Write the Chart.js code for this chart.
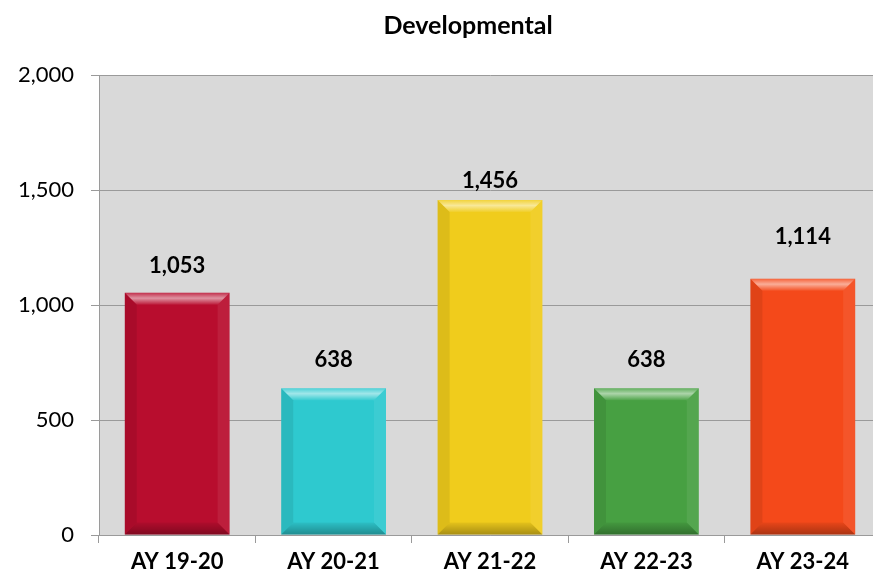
<!DOCTYPE html>
<html>
<head>
<meta charset="utf-8">
<script src="https://cdn.jsdelivr.net/npm/chart.js@4/dist/chart.umd.min.js"></script>
<style>
  html, body { margin: 0; padding: 0; background: #fff; overflow: hidden; }
  #wrap { width: 873px; height: 580px; overflow: hidden; }
</style>
</head>
<body>
<!-- el lienzo es algo más ancho: el área de trazado del original queda cortada por la derecha -->
<div id="wrap"><canvas id="grafico" width="881" height="580"></canvas></div>
<script>
// Datos del gráfico
const categorias = ['AY 19-20', 'AY 20-21', 'AY 21-22', 'AY 22-23', 'AY 23-24'];
const valores = [1053, 638, 1456, 638, 1114];
const colores = ['#b80d2e', '#2ec9cf', '#f0cc1c', '#47a042', '#f4491a'];
const ticksY = [0, 500, 1000, 1500, 2000];
// separación (px) de cada etiqueta sobre su barra, tal como en el original
const separacionEtiqueta = [27, 28, 19, 28, 42];

const FUENTE = 'Lato, "Liberation Sans", sans-serif';
const formatear = (n) => n.toLocaleString('en-US');

// fondo gris del área de trazado
const fondoArea = {
    id: 'fondoArea',
    beforeDraw(chart) {
        const { ctx, chartArea: a } = chart;
        ctx.save();
        ctx.fillStyle = '#d9d9d9';
        ctx.fillRect(a.left, a.top, a.right - a.left, a.bottom - a.top);
        ctx.restore();
    }
};

// título centrado sobre el gráfico completo
const titulo = {
    id: 'titulo',
    afterDraw(chart) {
        const ctx = chart.ctx;
        ctx.save();
        ctx.font = 'bold 25px ' + FUENTE;
        ctx.fillStyle = '#000';
        ctx.textAlign = 'center';
        ctx.textBaseline = 'middle';
        ctx.fillText('Developmental', 468, 26);
        ctx.restore();
    }
};

// efecto biselado sobre cada barra, usando la geometría del propio Chart.js
const bisel = {
    id: 'bisel',
    afterDatasetsDraw(chart) {
        const ctx = chart.ctx;
        chart.getDatasetMeta(0).data.forEach(bar => {
            const l = bar.x - bar.width / 2, r = bar.x + bar.width / 2;
            const t = bar.y, b = bar.base;
            const d = 12;
            ctx.save();
            // arriba (brillo)
            let g = ctx.createLinearGradient(0, t, 0, t + d);
            g.addColorStop(0, 'rgba(255,255,255,0.15)');
            g.addColorStop(0.45, 'rgba(255,255,255,0.55)');
            g.addColorStop(1, 'rgba(255,255,255,0.05)');
            ctx.fillStyle = g;
            ctx.beginPath();
            ctx.moveTo(l, t); ctx.lineTo(r, t); ctx.lineTo(r - d, t + d); ctx.lineTo(l + d, t + d);
            ctx.closePath(); ctx.fill();
            // abajo (sombra)
            g = ctx.createLinearGradient(0, b - d, 0, b);
            g.addColorStop(0, 'rgba(0,0,0,0.05)');
            g.addColorStop(1, 'rgba(0,0,0,0.3)');
            ctx.fillStyle = g;
            ctx.beginPath();
            ctx.moveTo(l, b); ctx.lineTo(r, b); ctx.lineTo(r - d, b - d); ctx.lineTo(l + d, b - d);
            ctx.closePath(); ctx.fill();
            // izquierda
            ctx.fillStyle = 'rgba(0,0,0,0.08)';
            ctx.beginPath();
            ctx.moveTo(l, t); ctx.lineTo(l + d, t + d); ctx.lineTo(l + d, b - d); ctx.lineTo(l, b);
            ctx.closePath(); ctx.fill();
            // derecha
            ctx.fillStyle = 'rgba(255,255,255,0.07)';
            ctx.beginPath();
            ctx.moveTo(r, t); ctx.lineTo(r - d, t + d); ctx.lineTo(r - d, b - d); ctx.lineTo(r, b);
            ctx.closePath(); ctx.fill();
            ctx.restore();
        });
    }
};

// etiquetas de valor encima de las barras
const etiquetas = {
    id: 'etiquetas',
    afterDatasetsDraw(chart) {
        const ctx = chart.ctx;
        const ds = chart.data.datasets[0];
        ctx.save();
        ctx.font = 'bold 22px ' + FUENTE;
        ctx.fillStyle = '#000';
        ctx.textAlign = 'center';
        ctx.textBaseline = 'middle';
        chart.getDatasetMeta(0).data.forEach((bar, i) => {
            ctx.fillText(formatear(ds.data[i]), bar.x, bar.y - separacionEtiqueta[i]);
        });
        ctx.restore();
    }
};

new Chart(document.getElementById('grafico'), {
    type: 'bar',
    data: {
        labels: categorias,
        datasets: [{
            data: valores,
            backgroundColor: colores,
            borderWidth: 0,
            categoryPercentage: 1,
            barPercentage: 0.67
        }]
    },
    options: {
        responsive: false,
        animation: false,
        layout: { padding: { left: 0, right: 0, top: 75, bottom: 0 } },
        plugins: {
            legend: { display: false },
            tooltip: { enabled: false },
            title: { display: false }
        },
        scales: {
            x: {
                grid: { drawOnChartArea: false, drawTicks: true, tickLength: 8, color: '#9a9a9a' },
                border: { color: '#9a9a9a', width: 1 },
                ticks: { color: '#000', font: { family: FUENTE, size: 22, weight: 'bold' }, padding: 6 },
                afterFit(s) { s.height = 45; }
            },
            y: {
                min: 0, max: 2000,
                afterBuildTicks(s) { s.ticks = ticksY.map(v => ({ value: v })); },
                grid: { color: '#9a9a9a', tickLength: 8 },
                border: { color: '#9a9a9a', width: 1 },
                ticks: { color: '#000', font: { family: FUENTE, size: 22 }, padding: 17, callback: (v) => formatear(v) },
                afterFit(s) { s.width = 99; }
            }
        }
    },
    plugins: [fondoArea, bisel, etiquetas, titulo]
});
</script>
</body>
</html>
